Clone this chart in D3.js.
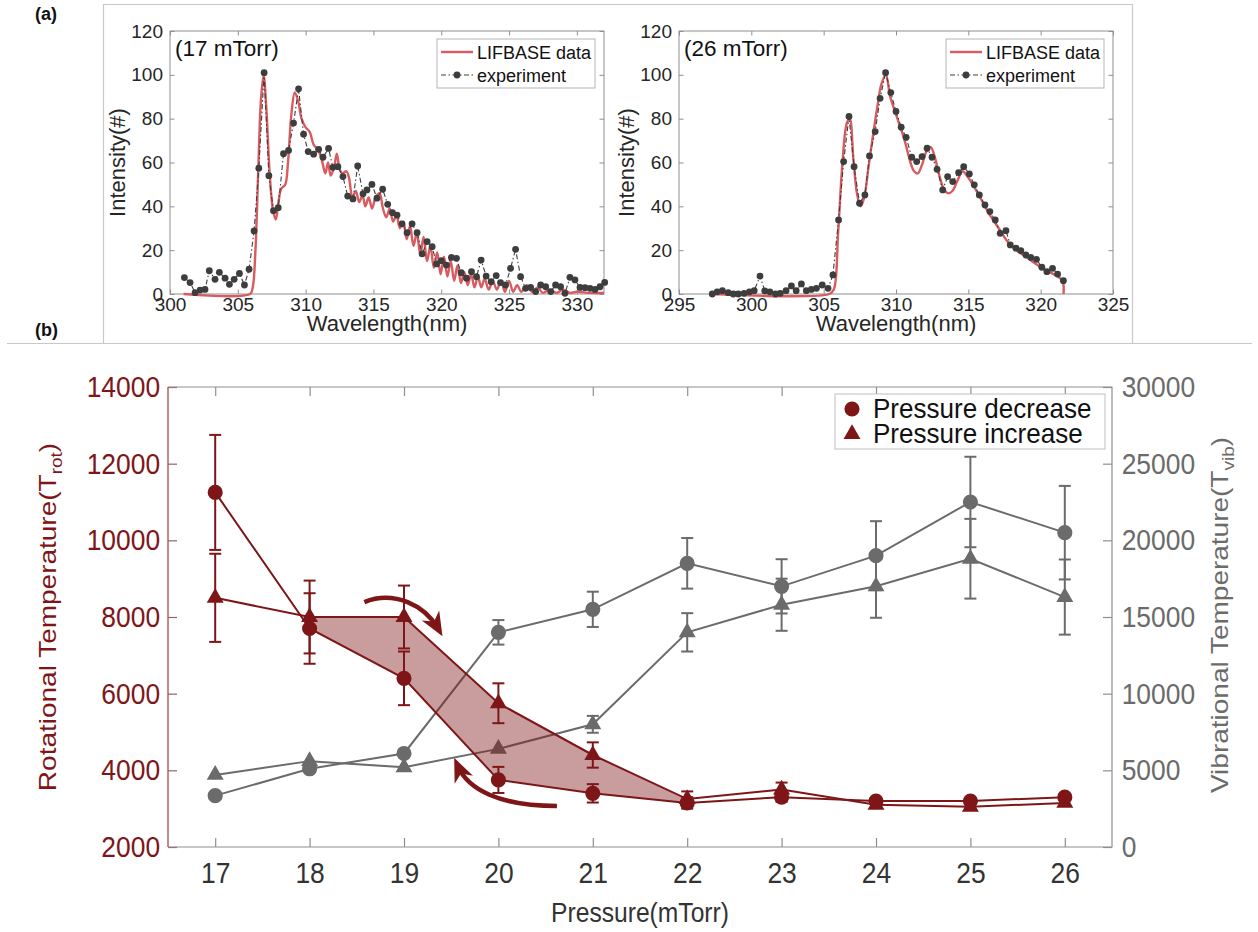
<!DOCTYPE html>
<html>
<head>
<meta charset="utf-8">
<script src="https://cdn.jsdelivr.net/npm/d3@7"></script>
<style>
    body { margin: 0; background: #fff; }
    svg { display: block; font-family: "Liberation Sans", Arial, sans-serif; }
</style>
</head>
<body>
<svg id="chart" width="1258" height="932"></svg>
<script>
// ---- (a) spectra, [wavelength nm, intensity] ----
const simLeft = [[301,0],[305.9,0],[306.1,3],[306.3,20],[306.5,55],[306.7,88],[306.9,100],[307.1,85],[307.35,55],
    [307.6,38],[307.8,34],[308.0,42],[308.2,48],[308.5,50],[308.7,60],[308.95,82],[309.2,92],[309.45,88],[309.7,80],
    [310.0,76],[310.3,74],[310.6,68],[310.9,66],[311.2,61],[311.45,55],[311.65,60],[311.85,54],[312.1,58],[312.3,64],
    [312.5,57],[312.7,55],[313.0,56],[313.2,53],[313.45,44],[313.7,47],[313.95,42],[314.2,45],[314.4,40],[314.65,44],
    [314.9,39],[315.15,44],[315.45,46],[315.7,39],[315.95,35],[316.2,39],[316.45,33],[316.7,36],[316.95,30],[317.2,33],
    [317.45,25],[317.7,31],[317.95,22],[318.2,28],[318.45,18],[318.7,26],[318.95,15],[319.2,22],[319.45,12],[319.7,19],
    [319.95,9],[320.2,17],[320.45,8],[320.7,15],[320.95,6],[321.2,13],[321.45,5],[321.7,10],[321.95,4],[322.2,9],
    [322.45,3],[322.7,8],[322.95,3],[323.2,7],[323.5,2],[323.8,6],[324.1,2],[324.4,6],[324.7,1],[325.0,6],[325.3,1],
    [325.6,4],[325.9,1],[326.3,4],[326.7,1],[327.1,3],[327.5,0.5],[328,2],[328.5,0.5],[329,2],[329.5,0.5],[330,1],
    [331,0.5],[332,0.5]];

const expLeft = [[301.06,7.5],[301.48,5.2],[301.85,0.6],[302.22,1.8],[302.58,2.1],[302.9,10.6],[303.32,6.7],
    [303.64,9.9],[304.06,7.2],[304.38,4.4],[304.73,6.7],[305.12,9.4],[305.49,4.1],[305.83,11.3],[306.2,28.8],
    [306.55,57.4],[306.94,101],[307.29,54],[307.63,38],[307.98,39.4],[308.37,64],[308.74,65.5],[309.11,78],
    [309.48,93.6],[309.85,72.9],[310.19,65],[310.59,63.8],[310.96,66],[311.28,62.4],[311.69,66.4],[312.01,57.8],
    [312.38,58.1],[312.75,53.6],[313.1,44.7],[313.49,43.4],[313.84,58.4],[314.23,45.7],[314.52,47.5],[314.89,50],
    [315.26,43.7],[315.68,47.8],[316.05,40.9],[316.4,37.1],[316.74,36],[317.11,32],[317.48,28],[317.85,32],
    [318.22,28],[318.59,18.3],[318.96,23.9],[319.33,21.6],[319.65,13.7],[320.01,15.2],[320.38,13.2],[320.75,16.7],
    [321.12,16.3],[321.47,9.7],[321.86,7.2],[322.23,10.2],[322.6,7.9],[322.94,15.5],[323.31,8.2],[323.68,5.6],
    [324.05,8.4],[324.37,5.2],[324.74,4.1],[325.11,11.7],[325.48,20.4],[325.85,7.9],[326.22,2.6],[326.59,3],
    [326.96,1.1],[327.33,4.1],[327.7,3.3],[328.07,1.1],[328.43,4.1],[328.8,3.3],[329.12,0.3],[329.49,7.6],
    [329.86,6.4],[330.23,3],[330.6,2.9],[330.97,2.6],[331.34,2.1],[331.71,3.3],[332.05,5.3]];

const simRight = [[297.3,0],[305.4,0],[305.7,2],[306.0,28],[306.3,60],[306.6,78],[306.8,80],[307.05,62],
    [307.3,46],[307.55,40],[307.8,44],[308.1,58],[308.4,72],[308.7,85],[309.0,96],[309.3,100],[309.6,90],
    [310.1,80],[310.6,70],[311.0,60],[311.25,56],[311.5,55],[311.8,59],[312.1,65],[312.4,67],[312.7,62],
    [313.0,54],[313.3,48],[313.6,46],[313.9,47],[314.2,51],[314.6,56],[314.9,54],[315.3,50],[315.9,43],
    [316.4,37],[317.1,30],[317.7,24],[318.3,20],[319.0,17],[319.6,14],[320.3,11],[320.9,9],[321.5,6],
    [321.58,0]];

const expRight = [[297.3,0],[297.64,1],[298.0,1.5],[298.4,0.6],[298.75,0],[299.1,0],[299.5,0.3],[299.87,1],
    [300.2,1.5],[300.6,8.2],[300.93,1.4],[301.28,1],[301.67,0],[302.0,0.3],[302.4,1.5],[302.77,3.7],[303.1,1.5],
    [303.46,4.6],[303.8,1.5],[304.15,2.1],[304.5,2.6],[304.9,4.1],[305.3,2.6],[305.64,8.7],[306.03,33.8],
    [306.38,60.4],[306.75,81],[307.1,58.1],[307.48,41.4],[307.85,45.2],[308.17,63],[308.56,74.1],[308.9,89.3],
    [309.28,101],[309.64,91.9],[310.0,83.3],[310.36,76.1],[310.7,71.5],[311.09,62.4],[311.43,60.4],[311.8,62.7],
    [312.15,66.5],[312.49,62.4],[312.84,56.9],[313.23,47.5],[313.57,53.6],[313.92,51.3],[314.33,55.4],
    [314.68,58.1],[315.07,54.8],[315.41,49.8],[315.76,45.2],[316.15,40.6],[316.49,37.6],[316.86,33.8],
    [317.2,27.7],[317.6,28.9],[317.9,22.4],[318.29,20.9],[318.63,19.8],[318.98,17.8],[319.32,16.7],
    [319.71,15.8],[320.08,12.2],[320.43,10.2],[320.82,11.7],[321.17,9.1],[321.57,6.1]];

const intensityTicks = [0, 20, 40, 60, 80, 100, 120];
const wlTicksLeft = [300, 305, 310, 315, 320, 325, 330];
const wlTicksRight = [295, 300, 305, 310, 315, 320, 325];

// ---- (b) temperatures vs pressure ----
const pressure   = [17, 18, 19, 20, 21, 22, 23, 24, 25, 26];
const rotDec     = [11250, 7700, 6400, 3750, 3400, 3150, 3300, 3200, 3200, 3300];
const rotDecErr  = [1500, 920, 700, 340, 240, 150, 120, 80, 80, 80];
const rotInc     = [8500, 8000, 8000, 5750, 4400, 3250, 3500, 3100, 3050, 3150];
const rotIncErr  = [1150, 950, 820, 520, 330, 200, 180, 80, 80, 80];
const vibDec     = [3350, 5100, 6100, 14000, 15500, 18500, 17000, 19000, 22500, 20500];
const vibDecErr  = [0, 0, 0, 800, 1150, 1650, 1770, 2250, 2950, 3050];
const vibInc     = [4700, 5600, 5200, 6400, 8000, 14000, 15800, 17000, 18800, 16300];
const vibIncErr  = [0, 0, 0, 0, 550, 1250, 1700, 2050, 2600, 2450];
const rotTicks = [2000, 4000, 6000, 8000, 10000, 12000, 14000];
const vibTicks = [0, 5000, 10000, 15000, 20000, 25000, 30000];
const hysteresis = [18, 19, 20, 21, 22];   // shaded span
// curved arrows, in (pressure, rot. temperature) units
const arrows = [
    [[18.58, 8390], [18.9, 8700], [19.22, 8300], [19.36, 7700]],
    [[20.62, 3070], [20.02, 3070], [19.68, 3490], [19.57, 4110]]
];

const RED = "#7e1618", GRAY = "#6b6b6b", BOX = "#8f8f8f", INK = "#262626";
const svg = d3.select("#chart");

// frame around (a)
svg.append("path")
    .attr("d", "M103.5,343 V4.5 H1132.5 V343 M7,343.5 H1252")
    .attr("fill", "none").attr("stroke", "#c8c8c8").attr("stroke-width", 1.2);
svg.append("text").attr("x", 35).attr("y", 20).attr("font-size", 18).attr("font-weight", "bold")
    .attr("fill", "#111").text("(a)");
svg.append("text").attr("x", 35).attr("y", 336).attr("font-size", 18).attr("font-weight", "bold")
    .attr("fill", "#111").text("(b)");

function spectrum(o) {
    let g = svg.append("g");
    let x = d3.scaleLinear().domain(o.xDomain).range([o.x0, o.x1]);
    let y = d3.scaleLinear().domain([0, 120]).range([o.y1, o.y0]);

    let styleAxis = (a) => {
        a.select(".domain").remove();
        a.selectAll("line").attr("stroke", BOX);
        a.selectAll("text").attr("font-size", 19).attr("fill", INK);
    };
    g.append("g").attr("transform", `translate(0,${o.y1})`)
        .call(d3.axisBottom(x).tickValues(o.xTicks).tickSizeInner(-4.5).tickSizeOuter(0).tickPadding(4))
        .call(styleAxis);
    g.append("g").attr("transform", `translate(0,${o.y0})`)
        .call(d3.axisTop(x).tickValues(o.xTicks).tickSizeInner(-4.5).tickSizeOuter(0).tickFormat(""))
        .call(styleAxis);
    g.append("g").attr("transform", `translate(${o.x0},0)`)
        .call(d3.axisLeft(y).tickValues(intensityTicks).tickSizeInner(-4.5).tickSizeOuter(0).tickPadding(7))
        .call(styleAxis);
    g.append("g").attr("transform", `translate(${o.x1},0)`)
        .call(d3.axisRight(y).tickValues(intensityTicks).tickSizeInner(-4.5).tickSizeOuter(0).tickFormat(""))
        .call(styleAxis);
    g.append("rect").attr("x", o.x0).attr("y", o.y0).attr("width", o.x1 - o.x0).attr("height", o.y1 - o.y0)
        .attr("fill", "none").attr("stroke", BOX).attr("stroke-width", 1);

    g.append("path").datum(o.sim)
        .attr("d", d3.line().x(d => x(d[0])).y(d => y(d[1])).curve(d3.curveCatmullRom.alpha(0.5)))
        .attr("fill", "none").attr("stroke", "#d95b60").attr("stroke-width", 2.4);
    g.append("path").datum(o.exp)
        .attr("d", d3.line().x(d => x(d[0])).y(d => y(d[1])))
        .attr("fill", "none").attr("stroke", "#3d3d3d").attr("stroke-width", 1.1)
        .attr("stroke-dasharray", "5,2.5,1.5,2.5");
    g.append("g").selectAll("circle").data(o.exp).join("circle")
        .attr("cx", d => x(d[0])).attr("cy", d => y(d[1])).attr("r", 3.4).attr("fill", "#3d3d3d");

    g.append("text").attr("x", o.x0 + 5).attr("y", o.y0 + 25).attr("font-size", 22.5).attr("fill", "#111")
        .text(o.label);
    g.append("text").attr("transform", `translate(${o.x0 - 45},${(o.y0 + o.y1) / 2}) rotate(-90)`)
        .attr("text-anchor", "middle").attr("font-size", 22).attr("fill", INK).text("Intensity(#)");
    g.append("text").attr("x", (o.x0 + o.x1) / 2).attr("y", o.y1 + 37)
        .attr("text-anchor", "middle").attr("font-size", 22).attr("fill", INK).text("Wavelength(nm)");

    // legend
    let lx = o.x1 - 167, ly = o.y0 + 8;
    let lg = g.append("g").attr("transform", `translate(${lx},${ly})`);
    lg.append("rect").attr("width", 158).attr("height", 49).attr("fill", "#fff").attr("stroke", "#b5b5b5");
    lg.append("line").attr("x1", 4).attr("x2", 36).attr("y1", 13).attr("y2", 13)
        .attr("stroke", "#d95b60").attr("stroke-width", 2.4);
    lg.append("line").attr("x1", 4).attr("x2", 36).attr("y1", 36).attr("y2", 36)
        .attr("stroke", "#3d3d3d").attr("stroke-width", 1.1).attr("stroke-dasharray", "5,2.5,1.5,2.5");
    lg.append("circle").attr("cx", 20).attr("cy", 36).attr("r", 3.4).attr("fill", "#3d3d3d");
    lg.append("text").attr("x", 40).attr("y", 19.5).attr("font-size", 18).attr("fill", "#111").text("LIFBASE data");
    lg.append("text").attr("x", 40).attr("y", 42.5).attr("font-size", 18).attr("fill", "#111").text("experiment");
}

spectrum({x0: 170, x1: 604, y0: 31, y1: 294, xDomain: [300, 332], xTicks: wlTicksLeft,
    sim: simLeft, exp: expLeft, label: "(17 mTorr)"});
spectrum({x0: 679, x1: 1113, y0: 31, y1: 294, xDomain: [295, 325], xTicks: wlTicksRight,
    sim: simRight, exp: expRight, label: "(26 mTorr)"});

// ---- (b) ----
const B = {x0: 168, x1: 1112, y0: 387, y1: 847};
const SX = 0.88;   // the source figure is slightly squeezed horizontally
let gb = svg.append("g");
let px = d3.scaleLinear().domain([16.5, 26.5]).range([B.x0, B.x1]);
let yRot = d3.scaleLinear().domain([2000, 14000]).range([B.y1, B.y0]);
let yVib = d3.scaleLinear().domain([0, 30000]).range([B.y1, B.y0]);
let plain = d3.format("d");

function styleB(color, lineColor) {
    return (a) => {
        a.select(".domain").remove();
        a.selectAll("line").attr("stroke", lineColor).attr("stroke-width", 1.2);
        a.selectAll("text").attr("font-size", 30).attr("fill", color)
            .attr("transform", `scale(${SX},1)`);
    };
}
gb.append("g").attr("transform", `translate(0,${B.y1})`)
    .call(d3.axisBottom(px).tickValues(pressure).tickSizeInner(-9).tickSizeOuter(0).tickPadding(15))
    .call(styleB("#333", BOX));
gb.append("g").attr("transform", `translate(0,${B.y0})`)
    .call(d3.axisTop(px).tickValues(pressure).tickSizeInner(-9).tickSizeOuter(0).tickFormat(""))
    .call(styleB("#333", BOX));
gb.append("g").attr("transform", `translate(${B.x0},0)`)
    .call(d3.axisLeft(yRot).tickValues(rotTicks).tickFormat(plain).tickSizeInner(-9).tickSizeOuter(0).tickPadding(9))
    .call(styleB(RED, "#a45a5a"));
gb.append("g").attr("transform", `translate(${B.x1},0)`)
    .call(d3.axisRight(yVib).tickValues(vibTicks).tickFormat(plain).tickSizeInner(-9).tickSizeOuter(0).tickPadding(11))
    .call(styleB(GRAY, BOX));
gb.append("path").attr("d", `M${B.x0},${B.y0} H${B.x1} V${B.y1} H${B.x0}`)
    .attr("fill", "none").attr("stroke", BOX).attr("stroke-width", 1.2);
gb.append("line").attr("x1", B.x0).attr("x2", B.x0).attr("y1", B.y0).attr("y2", B.y1)
    .attr("stroke", "#a45a5a").attr("stroke-width", 1.4);

function drawSeries(vals, errs, yScale, color, shape) {
    let pts = pressure.map((p, i) => ({p: p, v: vals[i], e: errs[i]}));
    let s = gb.append("g");
    s.append("path").datum(pts)
        .attr("d", d3.line().x(d => px(d.p)).y(d => yScale(d.v)))
        .attr("fill", "none").attr("stroke", color).attr("stroke-width", 2);
    let eb = s.selectAll("g.err").data(pts.filter(d => d.e > 0)).join("g").attr("class", "err");
    eb.append("line").attr("x1", d => px(d.p)).attr("x2", d => px(d.p))
        .attr("y1", d => yScale(d.v - d.e)).attr("y2", d => yScale(d.v + d.e));
    eb.append("line").attr("x1", d => px(d.p) - 6).attr("x2", d => px(d.p) + 6)
        .attr("y1", d => yScale(d.v + d.e)).attr("y2", d => yScale(d.v + d.e));
    eb.append("line").attr("x1", d => px(d.p) - 6).attr("x2", d => px(d.p) + 6)
        .attr("y1", d => yScale(d.v - d.e)).attr("y2", d => yScale(d.v - d.e));
    eb.selectAll("line").attr("stroke", color).attr("stroke-width", 2);
    let sym = shape === "circle" ? d3.symbol(d3.symbolCircle, 180) : d3.symbol(d3.symbolTriangle, 125);
    s.selectAll("path.mk").data(pts).join("path").attr("class", "mk")
        .attr("transform", d => `translate(${px(d.p)},${yScale(d.v)})`)
        .attr("d", sym).attr("fill", color);
}

drawSeries(vibInc, vibIncErr, yVib, GRAY, "triangle");
drawSeries(vibDec, vibDecErr, yVib, GRAY, "circle");

// shaded hysteresis band between the two rotational curves
let band = hysteresis.map(p => pressure.indexOf(p));
let poly = band.map(i => [px(pressure[i]), yRot(rotInc[i])])
    .concat(band.slice().reverse().map(i => [px(pressure[i]), yRot(rotDec[i])]));
gb.append("path").attr("d", d3.line()(poly) + "Z")
    .attr("fill", RED).attr("fill-opacity", 0.42).attr("stroke", "none");

drawSeries(rotInc, rotIncErr, yRot, RED, "triangle");
drawSeries(rotDec, rotDecErr, yRot, RED, "circle");

// arrows
svg.append("defs").append("marker").attr("id", "head")
    .attr("viewBox", "-16 -11 26 22").attr("refX", 0).attr("refY", 0)
    .attr("markerWidth", 26).attr("markerHeight", 22).attr("markerUnits", "userSpaceOnUse")
    .attr("orient", "auto")
    .append("path").attr("d", "M9,0 L-15,-10 L-8,0 L-15,10 Z").attr("fill", RED);
arrows.forEach(a => {
    let p = a.map(d => [px(d[0]), yRot(d[1])]);
    gb.append("path")
        .attr("d", `M${p[0]} C${p[1]} ${p[2]} ${p[3]}`)
        .attr("fill", "none").attr("stroke", RED).attr("stroke-width", 4.5)
        .attr("marker-end", "url(#head)");
});

// legend
let lgb = gb.append("g").attr("transform", "translate(835,394)");
lgb.append("rect").attr("width", 270).attr("height", 55).attr("fill", "#fff").attr("stroke", "#c0c0c0");
lgb.append("path").attr("transform", "translate(17,15)").attr("d", d3.symbol(d3.symbolCircle, 180)).attr("fill", RED);
lgb.append("path").attr("transform", "translate(17,40)").attr("d", d3.symbol(d3.symbolTriangle, 125)).attr("fill", RED);
lgb.append("text").attr("transform", "translate(38,24) scale(0.93,1)").attr("font-size", 28).attr("fill", "#111")
    .text("Pressure decrease");
lgb.append("text").attr("transform", "translate(38,49) scale(0.93,1)").attr("font-size", 28).attr("fill", "#111")
    .text("Pressure increase");

// axis titles
gb.append("text").attr("transform", `translate(${(B.x0 + B.x1) / 2},922) scale(${SX},1)`)
    .attr("text-anchor", "middle").attr("font-size", 28).attr("fill", "#333").text("Pressure(mTorr)");
let tl = gb.append("text").attr("transform", `translate(56,617) rotate(-90) scale(1,${SX})`)
    .attr("text-anchor", "middle").attr("font-size", 28).attr("fill", RED);
tl.append("tspan").text("Rotational Temperature(T");
tl.append("tspan").attr("font-size", 19).attr("dy", 7).text("rot");
tl.append("tspan").attr("dy", -7).text(")");
let tr = gb.append("text").attr("transform", `translate(1228,615) rotate(-90) scale(1,${SX})`)
    .attr("text-anchor", "middle").attr("font-size", 28).attr("fill", GRAY);
tr.append("tspan").text("Vibrational Temperature(T");
tr.append("tspan").attr("font-size", 19).attr("dy", 7).text("vib");
tr.append("tspan").attr("dy", -7).text(")");
</script>
</body>
</html>
